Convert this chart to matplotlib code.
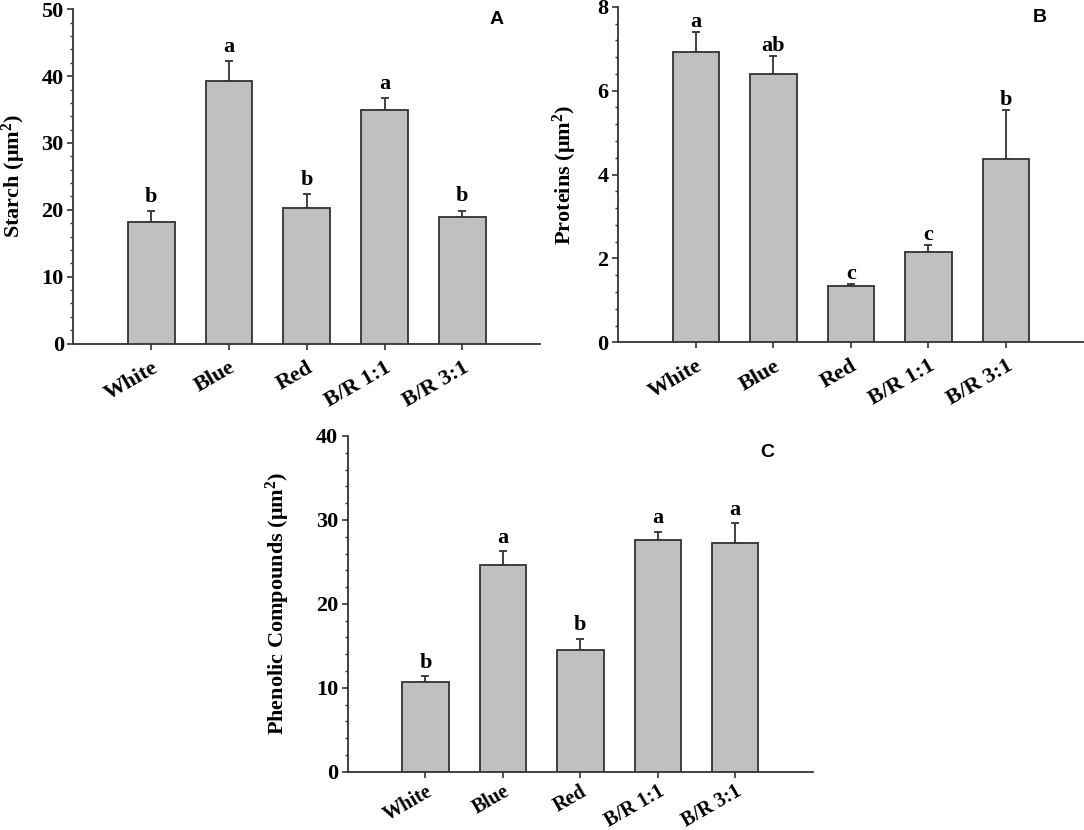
import numpy as np
import matplotlib
matplotlib.use('Agg')
from matplotlib import pyplot as plt
from matplotlib.ticker import AutoMinorLocator, MultipleLocator

# data
treatments = ['White', 'Blue', 'Red', 'B/R 1:1', 'B/R 3:1']

starch = [18.2, 39.3, 20.3, 35.0, 18.9]
starch_se = [1.6, 2.9, 2.1, 1.8, 1.0]
starch_letters = ['b', 'a', 'b', 'a', 'b']

proteins = [6.92, 6.40, 1.35, 2.16, 4.36]
proteins_se = [0.48, 0.42, 0.04, 0.16, 1.17]
proteins_letters = ['a', 'ab', 'c', 'c', 'b']

phenolics = [10.7, 24.6, 14.5, 27.6, 27.3]
phenolics_se = [0.7, 1.65, 1.35, 1.0, 2.35]
phenolics_letters = ['b', 'a', 'b', 'a', 'a']

plt.rcParams['font.family'] = ['Liberation Serif', 'DejaVu Serif']
plt.rcParams['font.weight'] = 'bold'
plt.rcParams['mathtext.fontset'] = 'custom'
plt.rcParams['mathtext.rm'] = 'Liberation Serif:bold'
plt.rcParams['mathtext.bf'] = 'Liberation Serif:bold'
plt.rcParams['mathtext.it'] = 'Liberation Serif:bold'

line_col = '#333333'
bar_col = '#c0c0c0'
fs = 16

fig = plt.figure(figsize=(10.84, 8.30), dpi=100)

panels = [
    # rect, values, errors, letters, ylabel, ymax, ystep, panel tag, tag pos,
    # letter offset, ylabel x, xtick pad, xtick size
    ([0.0678, 0.5861, 0.4304, 0.4027], starch, starch_se, starch_letters,
     r'Starch ($\mathregular{\mu}$m$^{2}$)', 50, 10, 'A', (0.906, 0.968), 6.5, -0.098, 6, 16),
    ([0.5704, 0.5876, 0.4290, 0.4043], proteins, proteins_se, proteins_letters,
     r'Proteins ($\mathregular{\mu}$m$^{2}$)', 8, 2, 'B', (0.906, 0.968), 3.5, -0.085, 6, 16),
    ([0.3210, 0.0702, 0.4287, 0.4045], phenolics, phenolics_se, phenolics_letters,
     r'Phenolic Compounds ($\mathregular{\mu}$m$^{2}$)', 40, 10, 'C', (0.902, 0.950), 6.0, -0.12, 3, 14.5),
]

x = np.arange(len(treatments))

for rect, vals, se, letters, ylab, ymax, ystep, tag, tagpos, off, ylx, xpad, xfs in panels:
    ax = fig.add_axes(rect)
    ax.bar(x, vals, width=0.6, color=bar_col, edgecolor=line_col, linewidth=1.3, zorder=3)
    ax.errorbar(x, vals, yerr=[np.zeros(len(vals)), se], fmt='none', ecolor=line_col,
                elinewidth=1.3, capsize=3, capthick=1.3, zorder=2)
    for xi, v, e, lab in zip(x, vals, se, letters):
        ax.annotate(lab, (xi, v + e), xytext=(0, off), textcoords='offset points',
                    ha='center', va='baseline', fontsize=fs, fontweight='bold')

    ax.set_xlim(-1, 5)
    ax.set_ylim(0, ymax)
    ax.set_xticks(x)
    ax.set_xticklabels(treatments, rotation=30, ha='right', va='top',
                       rotation_mode='anchor', fontsize=xfs, fontweight='bold')
    ax.yaxis.set_major_locator(MultipleLocator(ystep))
    ax.yaxis.set_minor_locator(AutoMinorLocator(5))
    ax.tick_params(axis='y', which='major', length=4, width=1.2, color=line_col,
                   labelsize=fs, pad=3)
    ax.tick_params(axis='y', which='minor', length=2.5, width=1.0, color=line_col)
    ax.tick_params(axis='x', which='major', length=4, width=1.2, color=line_col, pad=xpad)
    ax.tick_params(axis='x', which='minor', bottom=False)
    for t in ax.get_yticklabels():
        t.set_fontweight('bold')

    ax.spines['top'].set_visible(False)
    ax.spines['right'].set_visible(False)
    for s in ['left', 'bottom']:
        ax.spines[s].set_color(line_col)
        ax.spines[s].set_linewidth(1.3)

    ax.set_ylabel(ylab, fontsize=fs, fontweight='bold')
    ax.yaxis.set_label_coords(ylx, 0.5)

    ax.text(tagpos[0], tagpos[1], tag, transform=ax.transAxes, ha='center', va='center',
            fontsize=14, fontweight='bold', family='Liberation Sans')

plt.savefig('out.png', dpi=100)
